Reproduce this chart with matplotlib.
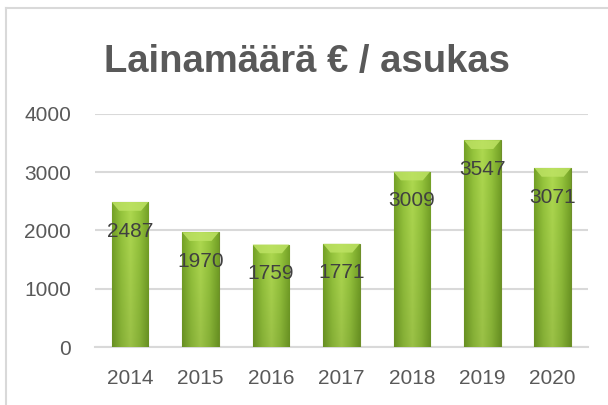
import numpy as np
import matplotlib.pyplot as plt
from matplotlib.lines import Line2D
from matplotlib.colors import LinearSegmentedColormap

vuodet = ['2014', '2015', '2016', '2017', '2018', '2019', '2020']
lainat = [2487, 1970, 1759, 1771, 3009, 3547, 3071]

plt.rcParams['font.family'] = ['Liberation Sans', 'DejaVu Sans']

fig = plt.figure(figsize=(6.08, 4.05), dpi=100)
ax = fig.add_axes([0.156, 0.143, 0.811, 0.576])

x = np.arange(len(vuodet))
palkit = ax.bar(x, lainat, width=0.52, color='#94c040', edgecolor='#6e8f2a',
                linewidth=0.8, zorder=3)

# liukuväri palkkeihin
cmap = LinearSegmentedColormap.from_list('vihrea', ['#6f9a25', '#8fbc3a', '#a6cf4c', '#8fbc3a', '#6f9a25'])
vaaka = np.linspace(0, 1, 60)
pysty = np.linspace(1, 0, 100)
varit = cmap(vaaka)[None, :, :] * np.ones((100, 1, 1))
varit[..., :3] = varit[..., :3] * (0.93 + 0.12 * pysty[:, None, None])
varit = np.clip(varit, 0, 1)
for p in palkit:
    x0, y0 = p.get_x(), p.get_y()
    w, h = p.get_width(), p.get_height()
    im = ax.imshow(varit, extent=[x0, x0 + w, y0, y0 + h], aspect='auto',
                   zorder=3.5, origin='upper')
    im.set_clip_path(p)
    # viiste ylhäällä
    ax.fill([x0, x0 + w, x0 + w * 0.8, x0 + w * 0.2],
            [y0 + h, y0 + h, y0 + h - 150, y0 + h - 150],
            color='#bde263', alpha=0.85, zorder=3.6, lw=0)

for xi, v in zip(x, lainat):
    ax.annotate(str(v), (xi, v), xytext=(0, -21), textcoords='offset points',
                ha='center', va='center', fontsize=15, color='#404040', zorder=5)

ax.set_xlim(-0.5, 6.5)
ax.set_ylim(0, 4000)
ax.set_yticks([0, 1000, 2000, 3000, 4000])
ax.set_xticks(x)
ax.set_xticklabels(vuodet)
ax.grid(axis='y', color='#d9d9d9', linewidth=1.5, zorder=0)
for s in ['top', 'right', 'left']:
    ax.spines[s].set_visible(False)
ax.spines['bottom'].set_color('#d9d9d9')
ax.spines['bottom'].set_linewidth(1.5)
ax.tick_params(axis='both', length=0, labelsize=15, colors='#595959')
ax.tick_params(axis='x', pad=16)
ax.tick_params(axis='y', pad=17)

fig.text(0.505, 0.847, 'Lainamäärä € / asukas', ha='center', va='center',
         fontsize=27.5, fontweight='bold', color='#595959')

# kaavion reunus
fig.add_artist(Line2D([6 / 608, 6 / 608], [0, 1 - 8 / 405], color='#d9d9d9', lw=1.5))
fig.add_artist(Line2D([6 / 608, 1], [1 - 8 / 405, 1 - 8 / 405], color='#d9d9d9', lw=1.5))

fig.savefig('out.png', dpi=100)
